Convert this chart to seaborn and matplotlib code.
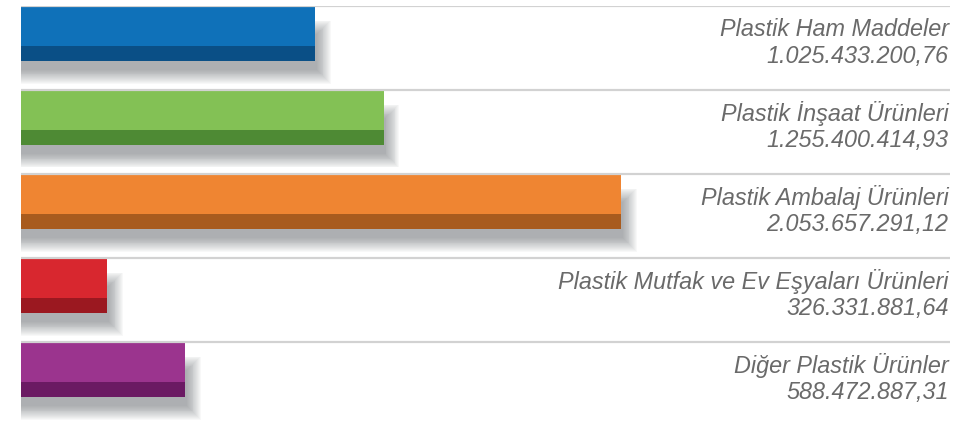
import numpy as np
import pandas as pd
import seaborn as sns
import matplotlib.pyplot as plt
import matplotlib.transforms as mtransforms

# Data
categories = [
    "Plastik Ham Maddeler",
    "Plastik İnşaat Ürünleri",
    "Plastik Ambalaj Ürünleri",
    "Plastik Mutfak ve Ev Eşyaları Ürünleri",
    "Diğer Plastik Ürünler",
]
values = [1025433200.76, 1255400414.93, 2053657291.12, 326331881.64, 588472887.31]
value_labels = ["1.025.433.200,76", "1.255.400.414,93", "2.053.657.291,12",
                "326.331.881,64", "588.472.887,31"]
face_colors = ["#0f71b9", "#83c155", "#ef8532", "#d8272f", "#9b348e"]
side_colors = ["#0a4f86", "#4e8a34", "#a85b1e", "#9b1820", "#6b1a63"]

df = pd.DataFrame({"category": categories, "value": values})

sns.set_style("white")
plt.rcParams["font.family"] = ["Liberation Sans", "DejaVu Sans"]

fig = plt.figure(figsize=(9.73, 4.30), dpi=100)
ax = fig.add_axes([21 / 973, 4 / 430, 929 / 973, 420 / 430])

px = 1 / 84.0                 # one pixel in row units
xpx = 1 / 0.2976e-6           # one pixel in data units (x)
bar_h = 54 * px

# soft drop shadow (blurred copy of bar shifted down/right)
pos = np.arange(len(values))
for k in range(16):
    r = k * 0.9
    ax.barh(pos + 18 * px, [v + (2 + r) * xpx for v in values],
            height=bar_h + 2 * r * px - 18 * px, color="#6a6d73", alpha=0.045,
            linewidth=0, zorder=1)

sns.barplot(data=df, x="value", y="category", hue="category", palette=face_colors,
            orient="h", width=bar_h, legend=False, ax=ax, zorder=3,
            saturation=1, linewidth=0)

# darker bottom strip
ax.barh(pos + (40 + 7.5 - 28) * px, values, height=15 * px,
        color=side_colors, linewidth=0, zorder=4)

# row separators
for i in range(len(values)):
    ax.axhline(i - 28 * px, color="#d2d2d2", lw=1.6, zorder=5)

ax.set_xlim(3.7e7, 3.7e7 + 929 * xpx)
ax.set_ylim(len(values) - 28 * px, -28 * px)

trans = mtransforms.blended_transform_factory(ax.transAxes, ax.transData)
for i, (name, lab) in enumerate(zip(categories, value_labels)):
    ax.text(0.9985, i - 28 * px + 24 * px, name, transform=trans, ha="right",
            va="center", fontsize=16.8, style="italic", color="#6a6a6a", zorder=6)
    ax.text(0.9985, i - 28 * px + 51 * px, lab, transform=trans, ha="right",
            va="center", fontsize=16.8, style="italic", color="#6a6a6a", zorder=6)

ax.set_axis_off()
fig.savefig("out.png", dpi=100)
